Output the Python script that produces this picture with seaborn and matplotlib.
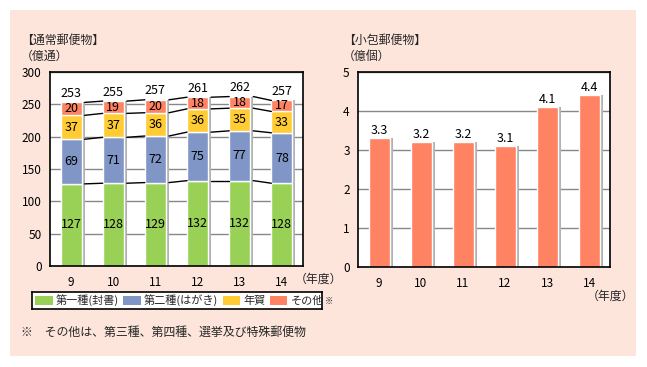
import matplotlib
matplotlib.use("Agg")
import matplotlib.pyplot as plt
import seaborn as sns
import numpy as np
import pandas as pd
from matplotlib.patches import Rectangle, Patch

# ---- data ----
years = ["9", "10", "11", "12", "13", "14"]
first_class = [127, 128, 129, 132, 132, 128]
second_class = [69, 71, 72, 75, 77, 78]
new_year = [37, 37, 36, 36, 35, 33]
others = [20, 19, 20, 18, 18, 17]
totals = [253, 255, 257, 261, 262, 257]
parcels = [3.3, 3.2, 3.2, 3.1, 4.1, 4.4]
series_names = ["第一種(封書)", "第二種(はがき)", "年賀", "その他"]

sns.set_theme(style="white")
plt.rcParams["font.family"] = ["Noto Sans CJK JP", "DejaVu Sans"]

C_GREEN = "#99D157"
C_BLUE = "#8096C6"
C_YELLOW = "#FFCC33"
C_ORANGE = "#FF8263"
C_SHADOW = "#B2B2B2"
C_BG = "#FDE5DB"

W, H = 647, 367
fig = plt.figure(figsize=(W / 100, H / 100), dpi=100)
fig.patch.set_facecolor("white")

def px(x0, y0, x1, y1):
    return [x0 / W, 1 - y1 / H, (x1 - x0) / W, (y1 - y0) / H]

# pink panel as a background axes (drawn first, below everything)
axBG = fig.add_axes(px(10, 10, 636, 356), zorder=-10)
axBG.set_facecolor(C_BG)
axBG.set_xticks([])
axBG.set_yticks([])
for s in axBG.spines.values():
    s.set_visible(False)

FS = 8.5

def style_axes(ax, ymax, step):
    ax.set_facecolor("white")
    ax.set_ylim(0, ymax)
    ax.set_xlim(-0.5, len(years) - 0.5)
    ax.set_yticks(np.arange(0, ymax + step / 2, step))
    ax.yaxis.grid(True, color="#888888", linewidth=1)
    ax.set_axisbelow(True)
    for s in ax.spines.values():
        s.set_color("black")
        s.set_linewidth(1.2)
    ax.tick_params(axis="y", length=0, labelsize=FS, pad=6, colors="black")
    ax.tick_params(axis="x", which="major", length=0, labelsize=FS, pad=7, colors="black")
    ax.set_xticks(np.arange(0.5, len(years) - 0.5, 1), minor=True)
    ax.tick_params(axis="x", which="minor", direction="in", length=4, width=1, color="black")
    ax.set_xlabel("")
    ax.set_ylabel("")

def add_shadows(ax, patches, ax_px_width):
    sw = 3 * len(years) / ax_px_width
    for p in patches:
        ax.add_patch(Rectangle((p.get_x() + p.get_width(), 0), sw, p.get_y() + p.get_height(),
                               facecolor=C_SHADOW, edgecolor="none", zorder=1.5))
    return sw

# ---- left chart ----
axL = fig.add_axes(px(50, 72, 303, 266))
df = pd.DataFrame({"year": years, "a": first_class, "b": second_class,
                   "c": new_year, "d": others})
layers = [("a", C_GREEN), ("b", C_BLUE), ("c", C_YELLOW), ("d", C_ORANGE)]
bottom = np.zeros(len(years))
tops = []
for col, colr in layers:
    sns.barplot(data=df, x="year", y=col, color=colr, width=0.5, saturation=1,
                bottom=bottom, ax=axL, order=years, zorder=2)
    vals = df[col].to_numpy()
    for i, v in enumerate(vals):
        axL.text(i, bottom[i] + v / 2, str(v), ha="center", va="center",
                 fontsize=FS + 0.5, color="black", zorder=4)
    bottom = bottom + vals
    tops.append(bottom.copy())
style_axes(axL, 300, 50)
top_patches = axL.patches[-len(years):]
sw = add_shadows(axL, top_patches, 253)
for cum in tops:
    for i in range(len(years) - 1):
        p0 = top_patches[i]
        p1 = top_patches[i + 1]
        axL.plot([p0.get_x() + p0.get_width() + sw, p1.get_x()], [cum[i], cum[i + 1]],
                 color="black", linewidth=1, zorder=3)
for i, t in enumerate(totals):
    axL.text(i, tops[-1][i] + 4, str(t), ha="center", va="bottom",
             fontsize=FS + 0.5, color="black", zorder=4)

# ---- right chart ----
axR = fig.add_axes(px(358, 72, 610, 267))
dfp = pd.DataFrame({"year": years, "v": parcels})
sns.barplot(data=dfp, x="year", y="v", color=C_ORANGE, width=0.5, saturation=1,
            ax=axR, order=years, zorder=2)
style_axes(axR, 5, 1)
add_shadows(axR, axR.patches[:len(years)], 252)
for i, v in enumerate(parcels):
    axR.text(i, v + 0.03, f"{v:.1f}", ha="center", va="bottom",
             fontsize=FS + 0.5, color="black", zorder=4)

# ---- titles ----
TF = 8.6
fig.text(21 / W, 1 - 40 / H, "【通常郵便物】", fontsize=TF, va="center", ha="left")
fig.text(21 / W, 1 - 56 / H, "（億通）", fontsize=TF, va="center", ha="left")
fig.text(343 / W, 1 - 40 / H, "【小包郵便物】", fontsize=TF, va="center", ha="left")
fig.text(343 / W, 1 - 56 / H, "（億個）", fontsize=TF, va="center", ha="left")
fig.text(295 / W, 1 - 279 / H, "（年度）", fontsize=TF, va="center", ha="left")
fig.text(587 / W, 1 - 296 / H, "（年度）", fontsize=TF, va="center", ha="left")

# ---- legend inside a framed box axes ----
axLeg = fig.add_axes(px(32, 292, 322, 309), zorder=5)
axLeg.set_facecolor("white")
axLeg.patch.set_alpha(1)
axLeg.set_xticks([])
axLeg.set_yticks([])
for s in axLeg.spines.values():
    s.set_visible(True)
    s.set_color("black")
    s.set_linewidth(1.2)
handles = [Patch(facecolor=c, edgecolor="none") for c in [C_GREEN, C_BLUE, C_YELLOW, C_ORANGE]]
leg = axLeg.legend(handles, series_names, loc="center left",
                   bbox_to_anchor=(0.0, 0.5), ncol=4, fontsize=8,
                   frameon=False, handlelength=1.55, handleheight=0.9,
                   handletextpad=0.3, columnspacing=0.4, borderpad=0.2,
                   borderaxespad=0.1)
fig.canvas.draw()
r = fig.canvas.get_renderer()
bb = leg.get_texts()[-1].get_window_extent(r)
fig.text((bb.x1 + 0.5) / W, (bb.y1 - 0.5) / H, "※", fontsize=6, ha="left", va="top",
         zorder=10)

fig.text(21 / W, 1 - 332 / H, "※　その他は、第三種、第四種、選挙及び特殊郵便物",
         fontsize=8.6, va="center", ha="left")

fig.savefig("out.png", dpi=100, facecolor="white")
